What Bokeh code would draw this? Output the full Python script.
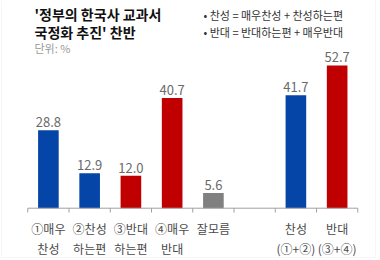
import numpy as np
from bokeh.plotting import figure
from bokeh.models import ColumnDataSource, Range1d, Label, BoxAnnotation
from bokeh.core.properties import value
from bokeh.transform import factor_cmap
from bokeh.embed import file_html
from bokeh.resources import INLINE

# ---- data ----
cat_line1 = ["①매우", "②찬성", "③반대", "④매우", "잘모름", "", "찬성", "반대"]
cat_line2 = ["찬성", "하는편", "하는편", "반대", "", "", "(①+②)", "(③+④)"]
values = [28.8, 12.9, 12.0, 40.7, 5.6, None, 41.7, 52.7]
groups = ["찬성", "찬성", "반대", "반대", "모름", None, "찬성", "반대"]

title_lines = ["'정부의 한국사 교과서", "국정화 추진' 찬반"]
unit_text = "단위: %"
legend_lines = ["• 찬성 = 매우찬성 + 찬성하는편", "• 반대 = 반대하는편 + 매우반대"]

KR = value("Noto Sans CJK KR")

n = len(cat_line1)
slots = np.arange(n)
has = [v is not None for v in values]
bar_src = ColumnDataSource(dict(
    x=[int(s) for s, h in zip(slots, has) if h],
    top=[v for v in values if v is not None],
    grp=[g for g in groups if g is not None],
    lbl=[f"{v:.1f}" for v in values if v is not None],
))
cat_src = ColumnDataSource(dict(x=slots, y=np.zeros(n), l1=cat_line1, l2=cat_line2))

W, H = 380, 260
slot_px = 41.25
x0_px = 47.9
base_px = 207.7
px_per_unit = 2.71
xs = -x0_px / slot_px
ys = -(H - base_px) / px_per_unit

p = figure(width=W, height=H, output_backend="svg", toolbar_location=None,
           x_range=Range1d(xs, xs + W / slot_px),
           y_range=Range1d(ys, ys + H / px_per_unit),
           x_axis_location=None, y_axis_location=None, min_border=0)
p.grid.visible = False
p.outline_line_color = None
p.background_fill_color = "white"
p.border_fill_color = "white"

p.vbar(x="x", top="top", bottom=0, width=0.5, source=bar_src, line_color=None,
       fill_color=factor_cmap("grp", palette=["#0645a8", "#c00000", "#808080"],
                              factors=["찬성", "반대", "모름"]))

p.text(x="x", y="top", text="lbl", source=bar_src, text_font=KR, text_font_size="13px",
       text_color="#6a6a6a", text_align="center", text_baseline="alphabetic", y_offset=-8)

# axis line + boundary ticks
bounds = np.arange(n + 1) - 0.5
p.segment(x0=[bounds[0]], y0=[0], x1=[bounds[-1]], y1=[0], line_color="#a0a0a0", line_width=1)
p.segment(x0=bounds, y0=np.zeros(n + 1), x1=bounds, y1=np.full(n + 1, -1.6),
          line_color="#a0a0a0", line_width=1)

p.text(x="x", y="y", text="l1", source=cat_src, text_font=KR, text_font_size="12px",
       text_color="#4a4a4a", text_align="center", text_baseline="middle", y_offset=20)
p.text(x="x", y="y", text="l2", source=cat_src, text_font=KR, text_font_size="12px",
       text_color="#4a4a4a", text_align="center", text_baseline="middle", y_offset=40)

for i, t in enumerate(title_lines):
    p.add_layout(Label(x=34, y=H - 13 - 18 * i, x_units="screen", y_units="screen", text=t,
                       text_font="Noto Sans CJK KR", text_font_size="14px", text_font_style="bold",
                       text_color="#111111", text_baseline="middle"))
p.add_layout(Label(x=34, y=H - 47, x_units="screen", y_units="screen", text=unit_text,
                   text_font="Noto Sans CJK KR", text_font_size="11px",
                   text_color="#9a9a9a", text_baseline="middle"))
for i, t in enumerate(legend_lines):
    p.add_layout(Label(x=203, y=H - 14 - 17 * i, x_units="screen", y_units="screen", text=t,
                       text_font="Noto Sans CJK KR", text_font_size="11px",
                       text_color="#333333", text_baseline="middle"))

p.add_layout(BoxAnnotation(left=1, right=375, top=-5, bottom=257,
                           left_units="canvas", right_units="canvas",
                           top_units="canvas", bottom_units="canvas",
                           fill_alpha=0, line_color="#e2e2e2", line_width=1))

open("out.html", "w").write(file_html(p, INLINE))
